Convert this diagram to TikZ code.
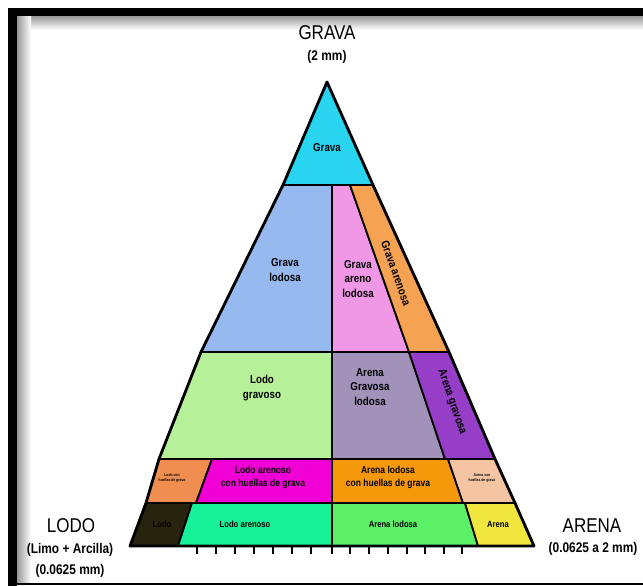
\documentclass[tikz,border=0pt]{standalone}
\usepackage{fontspec}
\setmainfont{Liberation Sans}[FakeStretch=0.85]
\definecolor{cGrava}{RGB}{40,212,240}
\definecolor{cGL}{RGB}{150,185,240}
\definecolor{cGAL}{RGB}{240,152,230}
\definecolor{cGA}{RGB}{245,162,82}
\definecolor{cLG}{RGB}{182,240,152}
\definecolor{cAGL}{RGB}{162,146,186}
\definecolor{cAG}{RGB}{150,62,200}
\definecolor{cLH}{RGB}{240,142,82}
\definecolor{cLAH}{RGB}{240,0,212}
\definecolor{cALH}{RGB}{245,152,10}
\definecolor{cAH}{RGB}{245,196,162}
\definecolor{cLodo}{RGB}{40,35,15}
\definecolor{cLA}{RGB}{22,240,152}
\definecolor{cAL}{RGB}{92,240,102}
\definecolor{cAr}{RGB}{240,230,62}
\begin{document}
\begin{tikzpicture}[x=1pt,y=-1pt,
  cell/.style={draw=black,line width=1.8pt,line join=round},
  lab/.style={font=\bfseries\fontsize{11.5}{14.5}\selectfont,align=center,inner sep=0pt},
  labm/.style={font=\bfseries\fontsize{10}{13}\selectfont,align=center,inner sep=0pt},
  labs/.style={font=\bfseries\fontsize{9}{11}\selectfont,align=center,inner sep=0pt},
  tiny/.style={font=\bfseries\fontsize{4}{4.6}\selectfont,align=center,inner sep=0pt},
  ttl/.style={font=\fontsize{20}{22}\selectfont,inner sep=0pt},
  sub/.style={font=\bfseries\fontsize{14}{16}\selectfont,inner sep=0pt},
  tickmark/.style={line width=2.6pt}]
\useasboundingbox (0,0) rectangle (643,586);
\fill[white] (0,0) rectangle (643,586);
% frame with inner shadow
\shade[top color=black!40,bottom color=white] (17,16) rectangle (643,30);
\shade[left color=black!40,right color=white] (17,16) rectangle (31,584);
\fill[black] (8,8) rectangle (643,16);
\fill[black] (8,8) rectangle (17,586);
\draw[line width=1.5pt] (8,584) -- (643,584);
% coordinates
\coordinate (A) at (327,82);
\coordinate (L1) at (283,185); \coordinate (R1) at (373,185);
\coordinate (L2) at (201,352); \coordinate (R2) at (449,352);
\coordinate (L3) at (159,459); \coordinate (R3) at (495,459);
\coordinate (L4) at (146,503); \coordinate (R4) at (515,503);
\coordinate (L5) at (130,546); \coordinate (R5) at (534,546);
\coordinate (C1) at (332,185); \coordinate (C2) at (332,352);
\coordinate (C3) at (332,459); \coordinate (C4) at (332,503);
\coordinate (C5) at (332,546);
\coordinate (S1) at (350,185); \coordinate (S2) at (409,352);
\coordinate (T3) at (445,459);
\coordinate (P3) at (212,459); \coordinate (P4) at (196,503);
\coordinate (Q3) at (448,459); \coordinate (Q4) at (463,503);
\coordinate (M4) at (192,503); \coordinate (M5) at (178,546);
\coordinate (N4) at (465,503); \coordinate (N5) at (478,546);
% cells
\filldraw[cell,fill=cGrava] (A) -- (R1) -- (L1) -- cycle;
\filldraw[cell,fill=cGL] (L1) -- (C1) -- (C2) -- (L2) -- cycle;
\filldraw[cell,fill=cGAL] (C1) -- (S1) -- (S2) -- (C2) -- cycle;
\filldraw[cell,fill=cGA] (S1) -- (R1) -- (R2) -- (S2) -- cycle;
\filldraw[cell,fill=cLG] (L2) -- (C2) -- (C3) -- (L3) -- cycle;
\filldraw[cell,fill=cAGL] (C2) -- (S2) -- (T3) -- (C3) -- cycle;
\filldraw[cell,fill=cAG] (S2) -- (R2) -- (R3) -- (T3) -- cycle;
\filldraw[cell,fill=cLH] (L3) -- (P3) -- (P4) -- (L4) -- cycle;
\filldraw[cell,fill=cLAH] (P3) -- (C3) -- (C4) -- (P4) -- cycle;
\filldraw[cell,fill=cALH] (C3) -- (Q3) -- (Q4) -- (C4) -- cycle;
\filldraw[cell,fill=cAH] (Q3) -- (R3) -- (R4) -- (Q4) -- cycle;
\filldraw[cell,fill=cLodo] (L4) -- (M4) -- (M5) -- (L5) -- cycle;
\filldraw[cell,fill=cLA] (M4) -- (C4) -- (C5) -- (M5) -- cycle;
\filldraw[cell,fill=cAL] (C4) -- (N4) -- (N5) -- (C5) -- cycle;
\filldraw[cell,fill=cAr] (N4) -- (R4) -- (R5) -- (N5) -- cycle;
\draw[line width=2.8pt,line join=round] (A) -- (R1) -- (R2) -- (R3) -- (R4) -- (R5)
  -- (L5) -- (L4) -- (L3) -- (L2) -- (L1) -- cycle;
% ticks
\foreach \tx in {197,216,235,254,273,292,311,332,350,369,388,407,425,444,462}
  \draw[tickmark] (\tx,547) -- (\tx,554);
% cell labels
\node[lab] (tGrava) at (327,148) {Grava};
\node[lab] (tGL) at (285,270) {Grava\\lodosa};
\node[lab] (tGAL) at (358,279) {Grava\\areno\\lodosa};
\node[lab,rotate=-70.5] (tGA) at (396,273) {Grava arenosa};
\node[lab] (tLG) at (262,388) {Lodo\\gravoso};
\node[lab] (tAGL) at (370,387) {Arena\\Gravosa\\lodosa};
\node[lab,rotate=-71] (tAG) at (452,402) {Arena gravosa};
\node[labm] (tLAH) at (263,477) {Lodo arenoso\\con huellas de grava};
\node[labm] (tALH) at (388,477) {Arena lodosa\\con huellas de grava};
\node[tiny] (tLH) at (172,478) {Lodo con\\huellas de grava};
\node[tiny] (tAH) at (482,478) {Arena con\\huellas de grava};
\node[labs,text=black] (tLodo) at (162,524) {Lodo};
\node[labs] (tLA) at (245,524) {Lodo arenoso};
\node[labs] (tAL) at (393,524) {Arena lodosa};
\node[labs] (tAr) at (498,524) {Arena};
% corner titles
\node[ttl] (gTitle) at (327,33) {GRAVA};
\node[sub] (gSub) at (327,57) {(2 mm)};
\node[ttl] (lTitle) at (71,526) {LODO};
\node[sub] (lSub1) at (70,550) {(Limo + Arcilla)};
\node[sub] (lSub2) at (70,571) {(0.0625 mm)};
\node[ttl] (aTitle) at (592,526) {ARENA};
\node[sub] (aSub) at (593,549) {(0.0625 a 2 mm)};
\end{tikzpicture}
\end{document}
